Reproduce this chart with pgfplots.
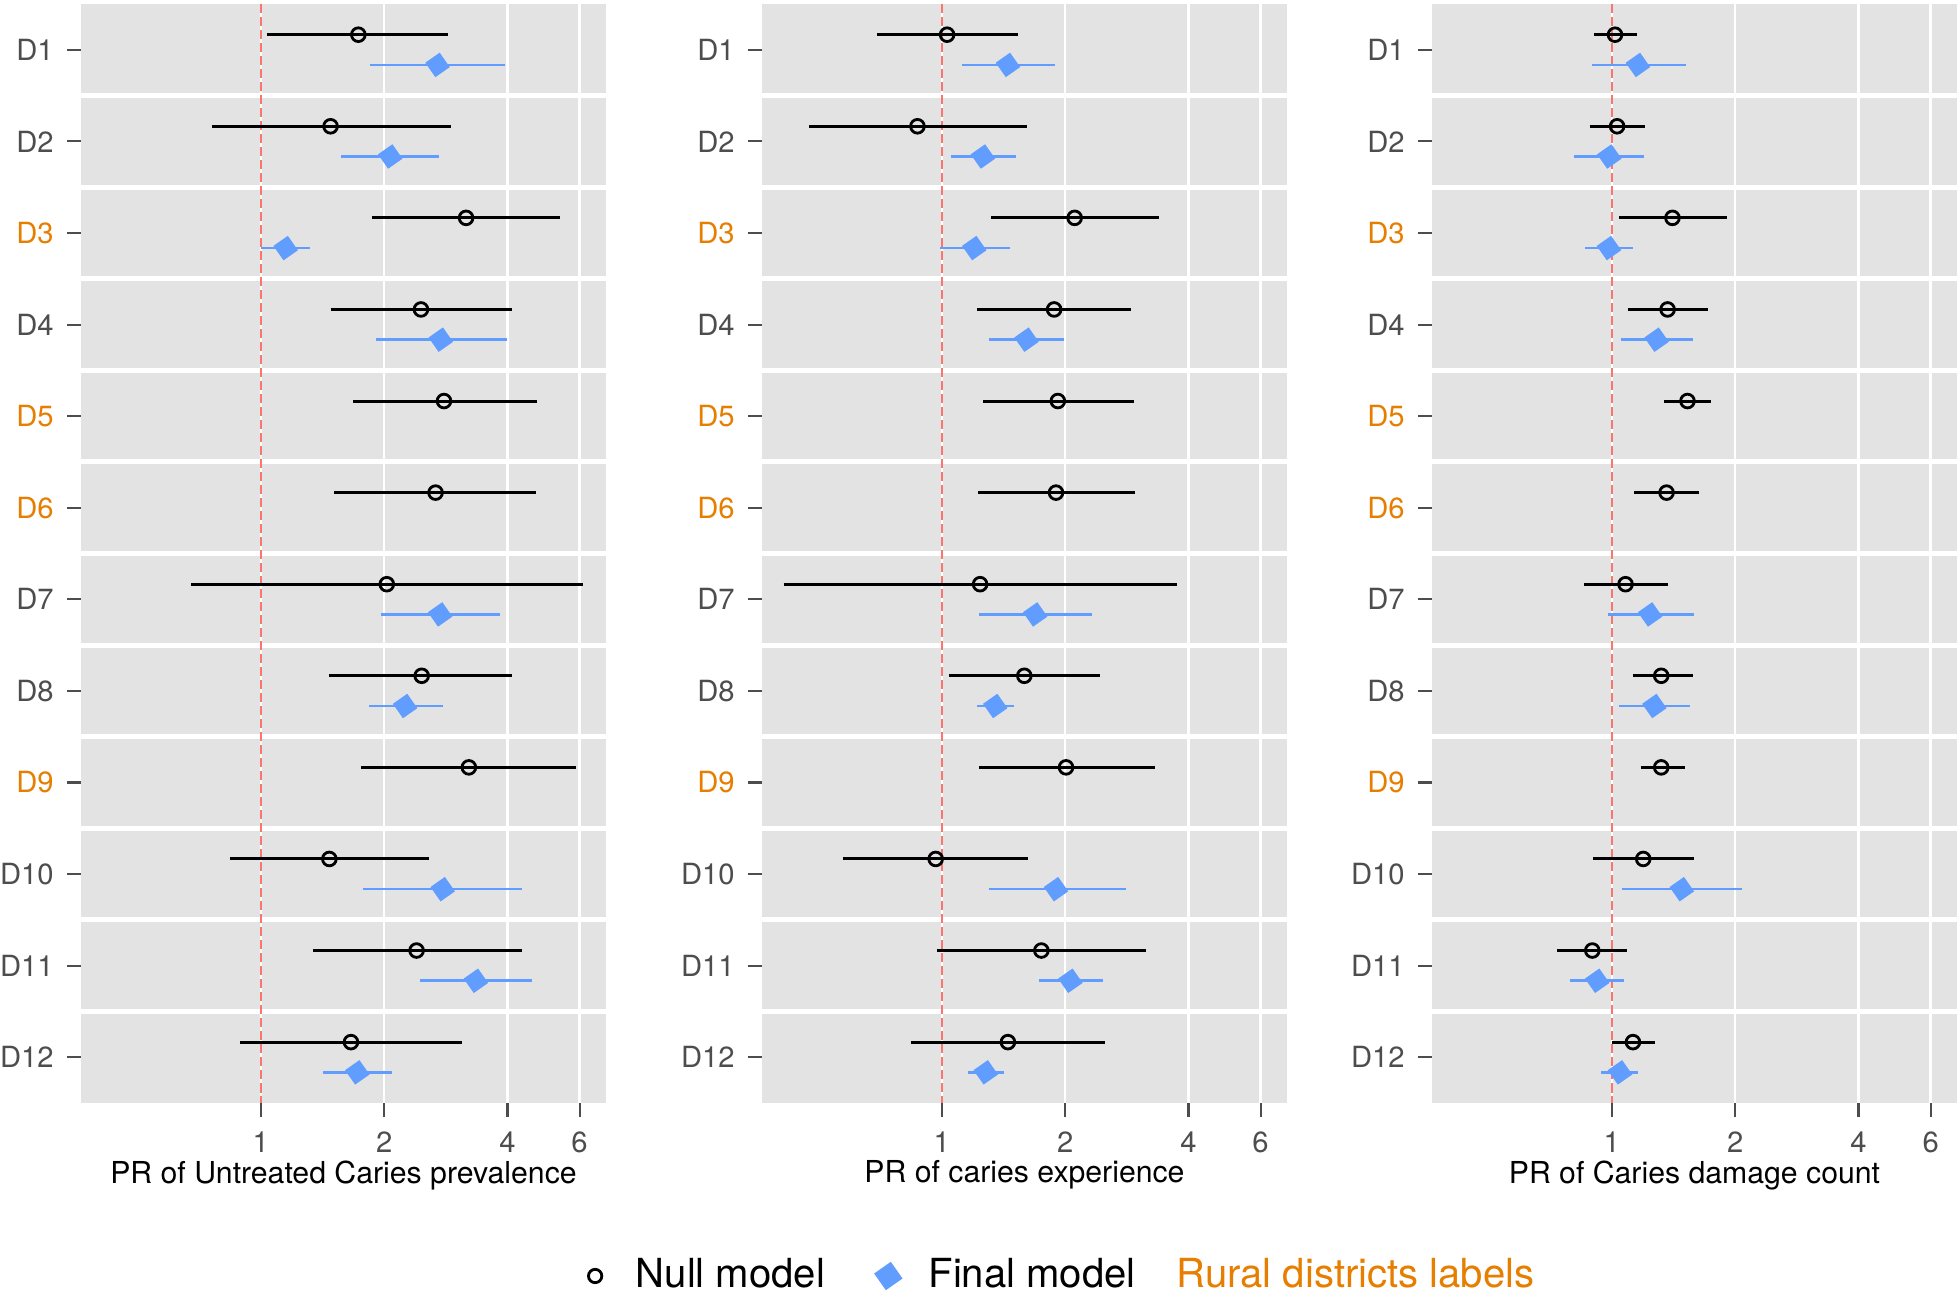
\documentclass[border=0pt]{standalone}
\usepackage{pgfplots}
\pgfplotsset{compat=1.18}
\usepackage{pgfplotstable}
\usepackage{fontspec}
\setmainfont{TeX Gyre Heros}

\definecolor{finalc}{HTML}{619CFF}
\definecolor{rural}{HTML}{E67E00}
\definecolor{panelbg}{HTML}{E3E3E3}
\definecolor{redline}{HTML}{F8766D}
\definecolor{txtgray}{HTML}{4D4D4D}

% estimates: k = district, pt = prevalence ratio
\pgfplotstableread{
k pt
1 1.73
2 1.48
3 3.17
4 2.46
5 2.80
6 2.67
7 2.03
8 2.47
9 3.22
10 1.47
11 2.40
12 1.66
}\Anull
\pgfplotstableread{
k pt
1 2.70
2 2.07
3 1.15
4 2.75
7 2.74
8 2.25
10 2.78
11 3.35
12 1.72
}\Afinal
\pgfplotstableread{
k pt
1 1.03
2 0.872
3 2.11
4 1.88
5 1.92
6 1.90
7 1.24
8 1.59
9 2.01
10 0.966
11 1.75
12 1.45
}\Bnull
\pgfplotstableread{
k pt
1 1.45
2 1.26
3 1.20
4 1.61
7 1.69
8 1.35
10 1.90
11 2.06
12 1.28
}\Bfinal
\pgfplotstableread{
k pt
1 1.018
2 1.03
3 1.406
4 1.368
5 1.53
6 1.36
7 1.08
8 1.32
9 1.32
10 1.193
11 0.896
12 1.126
}\Cnull
\pgfplotstableread{
k pt
1 1.158
2 0.986
3 0.984
4 1.286
7 1.24
8 1.27
10 1.482
11 0.921
12 1.047
}\Cfinal

% 95% intervals: lower and upper end per district, nan row = gap
\pgfplotstableread{
x k
1.035 1
2.87 1
nan nan
0.76 2
2.91 2
nan nan
1.87 3
5.38 3
nan nan
1.48 4
4.10 4
nan nan
1.68 5
4.73 5
nan nan
1.51 6
4.70 6
nan nan
0.675 7
6.13 7
nan nan
1.47 8
4.11 8
nan nan
1.76 9
5.88 9
nan nan
0.842 10
2.58 10
nan nan
1.34 11
4.33 11
nan nan
0.892 12
3.09 12
}\AnullCI
\pgfplotstableread{
x k
1.845 1
3.94 1
nan nan
1.57 2
2.73 2
nan nan
1.00 3
1.32 3
nan nan
1.91 4
3.99 4
nan nan
1.96 7
3.83 7
nan nan
1.84 8
2.78 8
nan nan
1.78 10
4.33 10
nan nan
2.45 11
4.59 11
nan nan
1.42 12
2.085 12
}\AfinalCI
\pgfplotstableread{
x k
0.694 1
1.535 1
nan nan
0.475 2
1.61 2
nan nan
1.32 3
3.38 3
nan nan
1.22 4
2.90 4
nan nan
1.26 5
2.94 5
nan nan
1.225 6
2.96 6
nan nan
0.411 7
3.76 7
nan nan
1.043 8
2.43 8
nan nan
1.234 9
3.31 9
nan nan
0.575 10
1.62 10
nan nan
0.972 11
3.15 11
nan nan
0.839 12
2.50 12
}\BnullCI
\pgfplotstableread{
x k
1.12 1
1.89 1
nan nan
1.053 2
1.52 2
nan nan
0.99 3
1.47 3
nan nan
1.30 4
1.99 4
nan nan
1.234 7
2.32 7
nan nan
1.217 8
1.50 8
nan nan
1.30 10
2.82 10
nan nan
1.727 11
2.47 11
nan nan
1.16 12
1.42 12
}\BfinalCI
\pgfplotstableread{
x k
0.906 1
1.15 1
nan nan
0.884 2
1.206 2
nan nan
1.04 3
1.915 3
nan nan
1.093 4
1.72 4
nan nan
1.34 5
1.75 5
nan nan
1.134 6
1.63 6
nan nan
0.857 7
1.37 7
nan nan
1.127 8
1.576 8
nan nan
1.175 9
1.51 9
nan nan
0.90 10
1.584 10
nan nan
0.736 11
1.09 11
nan nan
1.0 12
1.274 12
}\CnullCI
\pgfplotstableread{
x k
0.892 1
1.513 1
nan nan
0.808 2
1.20 2
nan nan
0.86 3
1.126 3
nan nan
1.052 4
1.577 4
nan nan
0.98 7
1.587 7
nan nan
1.04 8
1.555 8
nan nan
1.056 10
2.08 10
nan nan
0.79 11
1.073 11
nan nan
0.942 12
1.158 12
}\CfinalCI

\pgfplotsset{
  panel/.style={
    scale only axis, width=5.25cm, height=10.99cm,
    xmin=0.364, xmax=6.96,
    ymin=0.5, ymax=12.5, y dir=reverse,
    unbounded coords=jump,
    axis background/.style={fill=panelbg},
    axis line style={draw=none},
    xtick={1,2,4,6}, xticklabels={1,2,4,6},
    ytick={1,...,12},
    yticklabels={D1,D2,\textcolor{rural}{D3},D4,\textcolor{rural}{D5},\textcolor{rural}{D6},D7,D8,\textcolor{rural}{D9},D10,D11,D12},
    tick align=outside, xtick pos=bottom, ytick pos=left,
    major tick length=0.14cm,
    tick style={txtgray, line width=0.6pt},
    tick label style={font=\fontsize{8.3}{10}\selectfont, text=txtgray},
    xticklabel style={yshift=-0.02cm},
    yticklabel style={xshift=-0.01cm},
    xmajorgrids, major grid style={white, line width=0.7pt},
    extra y ticks={1.5,2.5,...,11.5}, extra y tick labels={},
    extra y tick style={grid=major, major tick length=0pt,
      major grid style={white, line width=1.4pt}},
    xlabel style={font=\fontsize{8.6}{10}\selectfont, anchor=center,
      at={(axis description cs:0.5,-0.0655)}},
  },
  nullci/.style={black, line width=0.85pt, mark=none},
  finalci/.style={finalc, line width=0.75pt, mark=none},
  nullpt/.style={only marks, mark=o, mark size=1.95pt,
    mark options={black, line width=0.8pt}},
  finalpt/.style={only marks, mark=square*, mark size=2.3pt,
    mark options={finalc, draw=finalc, rotate=35}},
}

\begin{document}
\begin{tikzpicture}
\useasboundingbox (0,0) rectangle (19.6,12.95);

\begin{axis}[panel, xmode=log, log basis x=2,
  at={(0.81cm,1.92cm)}, anchor=south west,
  xlabel={PR of Untreated Caries prevalence}]
\draw[redline, line width=0.7pt, dash pattern=on 2.6pt off 1.1pt] (axis cs:1,0.5) -- (axis cs:1,12.5);
\addplot[nullci] table[x=x, y expr=\thisrow{k}-0.165] {\AnullCI};
\addplot[finalci] table[x=x, y expr=\thisrow{k}+0.165] {\AfinalCI};
\addplot[nullpt] table[x=pt, y expr=\thisrow{k}-0.165] {\Anull};
\addplot[finalpt] table[x=pt, y expr=\thisrow{k}+0.165] {\Afinal};
\end{axis}

\begin{axis}[panel, xmode=log, log basis x=2,
  at={(7.62cm,1.92cm)}, anchor=south west,
  xlabel={PR of caries experience},
  legend style={draw=none, fill=none, font=\fontsize{11.4}{13}\selectfont,
    at={(axis description cs:0.577,-0.1574)}, anchor=center,
    /tikz/every even column/.append style={column sep=0.43cm}},
  legend columns=3, legend cell align=left]
\draw[redline, line width=0.7pt, dash pattern=on 2.6pt off 1.1pt] (axis cs:1,0.5) -- (axis cs:1,12.5);
\addplot[nullci, forget plot] table[x=x, y expr=\thisrow{k}-0.165] {\BnullCI};
\addplot[finalci, forget plot] table[x=x, y expr=\thisrow{k}+0.165] {\BfinalCI};
\addplot[nullpt, forget plot] table[x=pt, y expr=\thisrow{k}-0.165] {\Bnull};
\addplot[finalpt, forget plot] table[x=pt, y expr=\thisrow{k}+0.165] {\Bfinal};
\addlegendimage{nullpt, mark size=1.9pt}
\addlegendentry{\hspace{0.27cm}Null model}
\addlegendimage{finalpt, mark size=2.7pt}
\addlegendentry{\hspace{0.2cm}Final model}
\addlegendimage{empty legend}
\addlegendentry{\hspace{-0.16cm}\textcolor{rural}{Rural districts labels}}
\end{axis}

\begin{axis}[panel, xmode=log, log basis x=2,
  at={(14.32cm,1.92cm)}, anchor=south west,
  xlabel={PR of Caries damage count}]
\draw[redline, line width=0.7pt, dash pattern=on 2.6pt off 1.1pt] (axis cs:1,0.5) -- (axis cs:1,12.5);
\addplot[nullci] table[x=x, y expr=\thisrow{k}-0.165] {\CnullCI};
\addplot[finalci] table[x=x, y expr=\thisrow{k}+0.165] {\CfinalCI};
\addplot[nullpt] table[x=pt, y expr=\thisrow{k}-0.165] {\Cnull};
\addplot[finalpt] table[x=pt, y expr=\thisrow{k}+0.165] {\Cfinal};
\end{axis}
\end{tikzpicture}
\end{document}
